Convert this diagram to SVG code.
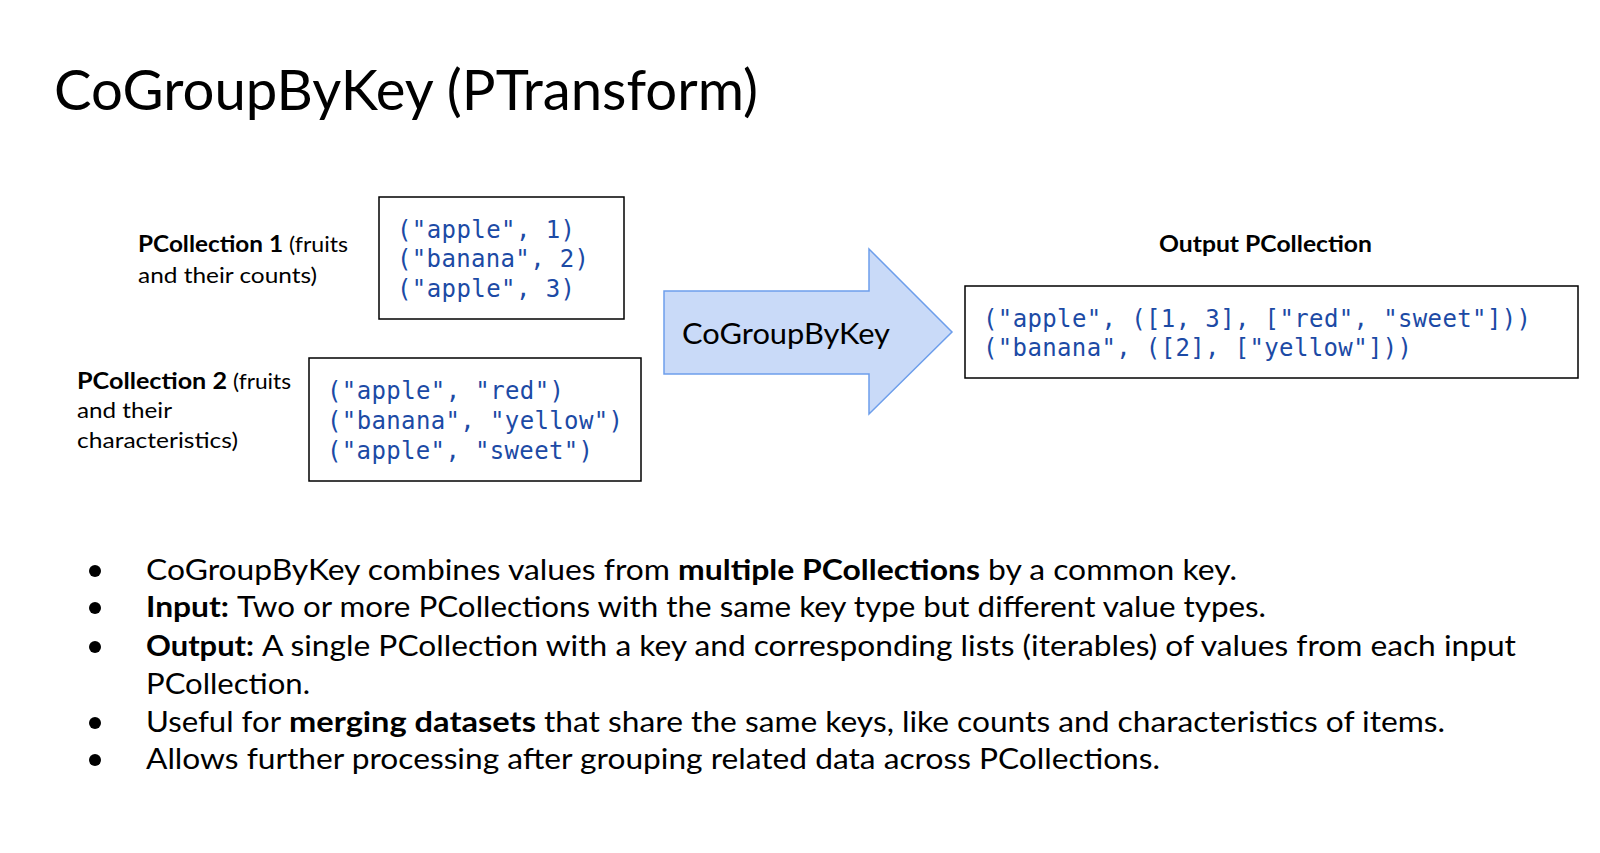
<svg xmlns="http://www.w3.org/2000/svg" width="1600" height="853" viewBox="0 0 1600 853">
<style>
.sans{font-family:Lato,"Open Sans","Liberation Sans",sans-serif;fill:#000}
.b{font-weight:bold}
.mono{font-family:"DejaVu Sans Mono","Liberation Mono",monospace;fill:#1c4aa5;font-size:24px}
.box{fill:#fff;stroke:#000;stroke-width:1.5}
.blt{font-size:29px}
.lbl{font-size:22px}
</style>
<rect width="1600" height="853" fill="#fff"/>
<g id="title"><text class="sans" x="54" y="110" font-size="56" textLength="704" lengthAdjust="spacingAndGlyphs">CoGroupByKey (PTransform)</text></g>
<g id="pc1-label" class="sans lbl">
<text x="138" y="252" class="b" textLength="145" lengthAdjust="spacingAndGlyphs">PCollection 1</text>
<text x="289" y="252" textLength="59" lengthAdjust="spacingAndGlyphs">(fruits</text>
<text x="138" y="283" textLength="179" lengthAdjust="spacingAndGlyphs">and their counts)</text>
</g>
<g id="pc1">
<rect class="box" x="379" y="197" width="245" height="122"/>
<text class="mono" x="397" y="238" textLength="178" lengthAdjust="spacing">("apple", 1)</text>
<text class="mono" x="397" y="267" textLength="192" lengthAdjust="spacing">("banana", 2)</text>
<text class="mono" x="397" y="297" textLength="178" lengthAdjust="spacing">("apple", 3)</text>
</g>
<g id="pc2-label" class="sans lbl">
<text x="77" y="389" class="b" textLength="150" lengthAdjust="spacingAndGlyphs">PCollection 2</text>
<text x="233" y="389" textLength="58" lengthAdjust="spacingAndGlyphs">(fruits</text>
<text x="77" y="418" textLength="95" lengthAdjust="spacingAndGlyphs">and their</text>
<text x="77" y="448" textLength="161" lengthAdjust="spacingAndGlyphs">characteristics)</text>
</g>
<g id="pc2">
<rect class="box" x="309" y="358" width="332" height="123"/>
<text class="mono" x="327" y="399" textLength="237" lengthAdjust="spacing">("apple", "red")</text>
<text class="mono" x="327" y="429" textLength="296" lengthAdjust="spacing">("banana", "yellow")</text>
<text class="mono" x="327" y="459" textLength="266" lengthAdjust="spacing">("apple", "sweet")</text>
</g>
<g id="connectors">
<g id="cogroupbykey">
<path d="M664,291 L869,291 L869,249 L952,332 L869,414 L869,374 L664,374 Z" fill="#c9daf8" stroke="#6d9eeb" stroke-width="1.5" stroke-linejoin="miter"/>
<text class="sans" x="682" y="344" font-size="28" textLength="208" lengthAdjust="spacingAndGlyphs">CoGroupByKey</text>
</g>
</g>
<g id="output">
<text class="sans b" x="1159" y="252" font-size="22" textLength="213" lengthAdjust="spacingAndGlyphs">Output PCollection</text>
<rect class="box" x="965" y="286" width="613" height="92"/>
<text class="mono" x="983" y="327" textLength="548" lengthAdjust="spacing">("apple", ([1, 3], ["red", "sweet"]))</text>
<text class="mono" x="983" y="356" textLength="429" lengthAdjust="spacing">("banana", ([2], ["yellow"]))</text>
</g>
<g id="bullets" class="sans blt">
<circle cx="95" cy="571" r="6"/>
<circle cx="95" cy="608" r="6"/>
<circle cx="95" cy="647" r="6"/>
<circle cx="95" cy="723" r="6"/>
<circle cx="95" cy="760" r="6"/>
<text x="146" y="580" textLength="524" lengthAdjust="spacingAndGlyphs">CoGroupByKey combines values from</text>
<text x="678" y="580" class="b" textLength="302" lengthAdjust="spacingAndGlyphs">multiple PCollections</text>
<text x="988" y="580" textLength="249" lengthAdjust="spacingAndGlyphs">by a common key.</text>
<text x="146" y="617" class="b" textLength="83" lengthAdjust="spacingAndGlyphs">Input:</text>
<text x="237" y="617" textLength="1029" lengthAdjust="spacingAndGlyphs">Two or more PCollections with the same key type but different value types.</text>
<text x="146" y="656" class="b" textLength="108" lengthAdjust="spacingAndGlyphs">Output:</text>
<text x="262" y="656" textLength="1254" lengthAdjust="spacingAndGlyphs">A single PCollection with a key and corresponding lists (iterables) of values from each input</text>
<text x="146" y="694" textLength="164" lengthAdjust="spacingAndGlyphs">PCollection.</text>
<text x="146" y="732" textLength="135" lengthAdjust="spacingAndGlyphs">Useful for</text>
<text x="289" y="732" class="b" textLength="247" lengthAdjust="spacingAndGlyphs">merging datasets</text>
<text x="544" y="732" textLength="901" lengthAdjust="spacingAndGlyphs">that share the same keys, like counts and characteristics of items.</text>
<text x="146" y="769" textLength="1014" lengthAdjust="spacingAndGlyphs">Allows further processing after grouping related data across PCollections.</text>
</g>
</svg>
